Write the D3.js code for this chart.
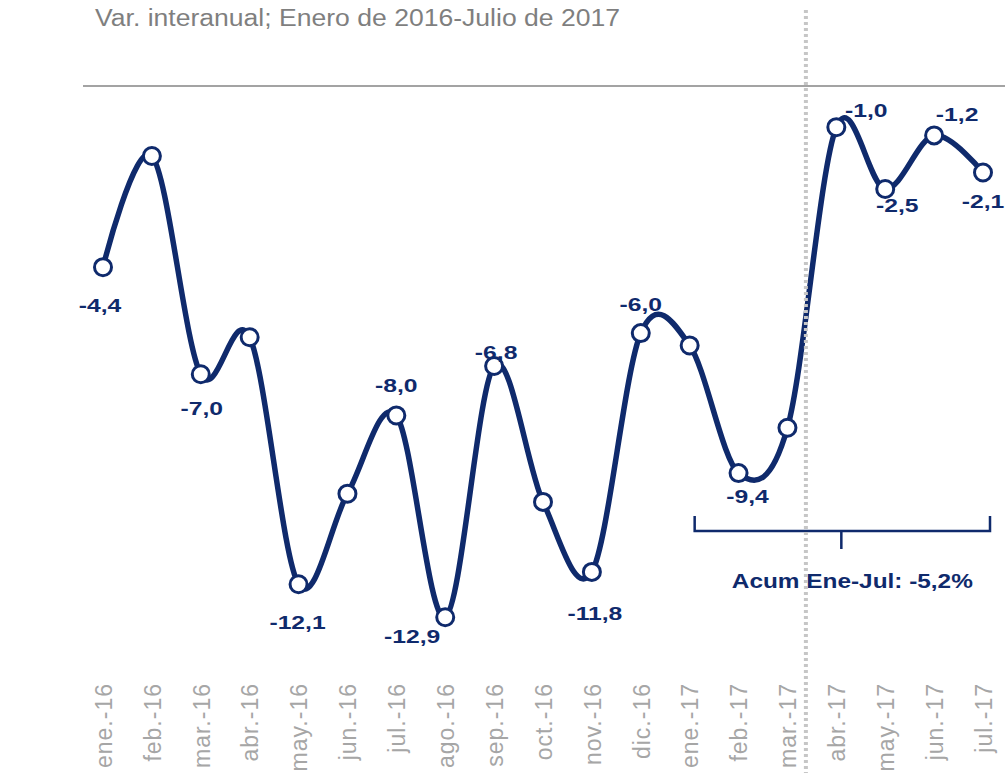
<!DOCTYPE html>
<html><head><meta charset="utf-8">
<script src="https://cdn.jsdelivr.net/npm/d3@7"></script>
<style>html,body{margin:0;padding:0;background:#fff;}svg{display:block;}</style>
</head><body>
<svg id="c" width="1005" height="773"></svg>
<script>
const categories = ["ene.-16","feb.-16","mar.-16","abr.-16","may.-16","jun.-16","jul.-16","ago.-16","sep.-16","oct.-16","nov.-16","dic.-16","ene.-17","feb.-17","mar.-17","abr.-17","may.-17","jun.-17","jul.-17"];
const values = [-4.4,-1.7,-7.0,-6.1,-12.1,-9.9,-8.0,-12.9,-6.8,-10.1,-11.8,-6.0,-6.3,-9.4,-8.3,-1.0,-2.5,-1.2,-2.1];
const labelled = ["ene.-16","mar.-16","may.-16","jul.-16","ago.-16","sep.-16","nov.-16","dic.-16","feb.-17","abr.-17","may.-17","jun.-17","jul.-17"];
const titleText = "Var. interanual; Enero de 2016-Julio de 2017";
const annotationText = "Acum Ene-Jul: -5,2%";
const bracketFrom = "ene.-17", bracketTo = "jul.-17";
const dividerBetween = ["mar.-17","abr.-17"];

// label placement offsets (styling, not data)
const labelOffset = {
  "ene.-16":[-3,38],"mar.-16":[1,34],"may.-16":[-1,38],"jul.-16":[0,-30],
  "ago.-16":[-33,19],"sep.-16":[2,-14],"nov.-16":[3,41],"dic.-16":[0,-29],
  "feb.-17":[9,23],"abr.-17":[30,-17],"may.-17":[12,16],"jun.-17":[23,-21],"jul.-17":[0,29]
};

const navy = "#0f2a6c";
const svg = d3.select("#c");
const fmt = v => d3.format(".1f")(v).replace(".", ",").replace("\u2212", "-");

const x = d3.scalePoint().domain(categories).range([103, 983]);
const y = d3.scaleLinear().domain([0, -14]).range([86, 86 + 14 * 41.18]);

// watermark shape on left
svg.append("clipPath").attr("id","wm").append("rect").attr("x",0).attr("y",380).attr("width",59).attr("height",220);
svg.append("path")
  .attr("clip-path","url(#wm)")
  .attr("transform","translate(101,493)")
  .attr("d", d3.arc()({innerRadius:55, outerRadius:91, startAngle:0, endAngle:2*Math.PI}))
  .attr("fill","#dedede");

// title
svg.append("text").attr("x",95).attr("y",26)
  .attr("font-family","Liberation Sans, Arial, sans-serif").attr("font-size",23)
  .attr("fill","#7f7f7f").attr("textLength",525).attr("lengthAdjust","spacingAndGlyphs")
  .text(titleText);

// zero axis line
svg.append("line").attr("x1",83).attr("x2",1005).attr("y1",y(0)).attr("y2",y(0))
  .attr("stroke","#a3a3a3").attr("stroke-width",2);

// x axis labels
const xAxis = d3.axisBottom(x).tickSize(0).tickPadding(0);
const gx = svg.append("g").attr("transform","translate(0,683)").call(xAxis);
gx.select(".domain").remove();
gx.selectAll("text")
  .attr("transform","rotate(-90)")
  .attr("x",0).attr("y",0).attr("dy","0.36em").attr("dx",0)
  .attr("text-anchor","end")
  .attr("font-family","Liberation Sans, Arial, sans-serif")
  .attr("font-size",23).attr("letter-spacing","1px")
  .attr("fill","#a6a6a6");

// line
const data = categories.map((c,i)=>({c, v: values[i]}));
const line = d3.line().x(d=>x(d.c)).y(d=>y(d.v)).curve(d3.curveCatmullRom.alpha(0));
svg.append("path").datum(data).attr("d",line)
  .attr("fill","none").attr("stroke",navy).attr("stroke-width",5.5)
  .attr("stroke-linejoin","round").attr("stroke-linecap","round");

// markers
svg.append("g").selectAll("circle").data(data).join("circle")
  .attr("cx",d=>x(d.c)).attr("cy",d=>y(d.v)).attr("r",8.5)
  .attr("fill","#fff").attr("stroke",navy).attr("stroke-width",3);

// data labels
svg.append("g").selectAll("text").data(data.filter(d=>labelled.includes(d.c))).join("text")
  .attr("transform",d=>`translate(${x(d.c)+labelOffset[d.c][0]},${y(d.v)+labelOffset[d.c][1]}) scale(1.3,1)`)
  .attr("text-anchor","middle").attr("dy","0.36em")
  .attr("font-family","Liberation Sans, Arial, sans-serif").attr("font-weight","bold")
  .attr("font-size",19).attr("fill",navy)
  .text(d=>fmt(d.v));

// bracket
const bx0 = x(bracketFrom) + 5, bx1 = x(bracketTo) + 7, bmid = (bx0 + bx1)/2 - 1;
svg.append("path")
  .attr("d",`M${bx0},516V531H${bx1}V516M${bmid},531V549`)
  .attr("fill","none").attr("stroke",navy).attr("stroke-width",2.5);
svg.append("text").attr("x",bmid+11).attr("y",588).attr("text-anchor","middle")
  .attr("font-family","Liberation Sans, Arial, sans-serif").attr("font-weight","bold")
  .attr("font-size",21).attr("fill",navy)
  .attr("textLength",241).attr("lengthAdjust","spacingAndGlyphs")
  .text(annotationText);

// vertical dotted divider
const dx = (x(dividerBetween[0]) + x(dividerBetween[1]))/2 - 6;
svg.append("line").attr("x1",dx).attr("x2",dx).attr("y1",10).attr("y2",773)
  .attr("stroke","#c6c6c6").attr("stroke-width",4).attr("stroke-dasharray","3,3");
</script>
</body></html>
